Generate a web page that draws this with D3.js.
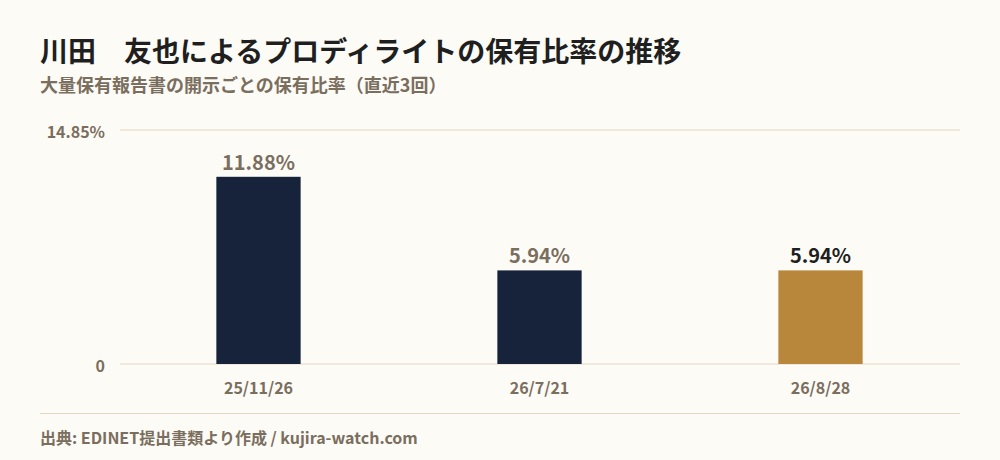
<!DOCTYPE html>
<html><head><meta charset="utf-8">
<script src="https://cdn.jsdelivr.net/npm/d3@7"></script>
<style>
html,body{margin:0;padding:0;background:#fdfbf6;}
svg{display:block;font-family:"Noto Sans CJK JP","Noto Sans",sans-serif;}
</style></head>
<body><svg id="c" width="1000" height="460"></svg>
<script>
const categories = ["25/11/26", "26/7/21", "26/8/28"];
const values = [11.88, 5.94, 5.94];
const yTicks = [0, 14.85];
const title = "川田　友也によるプロディライトの保有比率の推移";
const subtitle = "大量保有報告書の開示ごとの保有比率（直近3回）";
const source = "出典: EDINET提出書類より作成 / kujira-watch.com";

const svg = d3.select("#c");
svg.append("rect").attr("width",1000).attr("height",460).attr("fill","#fdfbf6");

const plotLeft = 118, plotRight = 961, plotTop = 130, plotBottom = 364;
const x = d3.scaleBand().domain(categories).range([plotLeft, plotRight]).paddingInner(0.7).paddingOuter(0.35);
const y = d3.scaleLinear().domain([0, 14.85]).range([plotBottom, plotTop]);

svg.append("text").attr("x",40).attr("y",62).attr("font-size",28).attr("font-weight",700)
  .attr("fill","#1f1f1f").text(title);
svg.append("text").attr("x",40).attr("y",92).attr("font-size",18).attr("font-weight",700)
  .attr("fill","#7a6e5e").text(subtitle);

// grid
svg.selectAll("line.grid").data(yTicks).join("line").attr("class","grid")
  .attr("x1",120).attr("x2",960).attr("y1",d=>y(d)).attr("y2",d=>y(d))
  .attr("stroke","#e4d8c0").attr("stroke-width",1);
svg.selectAll("text.yt").data(yTicks).join("text").attr("class","yt")
  .attr("x",105).attr("y",d=>y(d)+2).attr("dy","0.35em").attr("text-anchor","end")
  .attr("font-size",16).attr("font-weight",700).attr("fill","#7a6e5e")
  .text(d=> d===0 ? "0" : d.toFixed(2)+"%");

// bars
const last = categories.length-1;
svg.selectAll("rect.bar").data(values).join("rect").attr("class","bar")
  .attr("x",(d,i)=>x(categories[i])).attr("width",x.bandwidth())
  .attr("y",d=>y(d)).attr("height",d=>y(0)-y(d))
  .attr("fill",(d,i)=> i===last ? "#b8873b" : "#17223b");
svg.selectAll("text.val").data(values).join("text").attr("class","val")
  .attr("x",(d,i)=>x(categories[i])+x.bandwidth()/2).attr("y",d=>y(d)-7)
  .attr("text-anchor","middle").attr("font-size",20).attr("font-weight",700)
  .attr("fill",(d,i)=> i===last ? "#1f1f1f" : "#7a6e5e")
  .text(d=>d.toFixed(2)+"%");

// x labels
svg.selectAll("text.xl").data(categories).join("text").attr("class","xl")
  .attr("x",d=>x(d)+x.bandwidth()/2).attr("y",394).attr("text-anchor","middle")
  .attr("font-size",16).attr("font-weight",700).attr("fill","#7a6e5e").text(d=>d);

// footer
svg.append("line").attr("x1",40).attr("x2",960).attr("y1",413.5).attr("y2",413.5)
  .attr("stroke","#e4d8c0").attr("stroke-width",1);
svg.append("text").attr("x",40).attr("y",444).attr("font-size",16).attr("font-weight",700)
  .attr("fill","#7a6e5e").text(source);
</script></body></html>
